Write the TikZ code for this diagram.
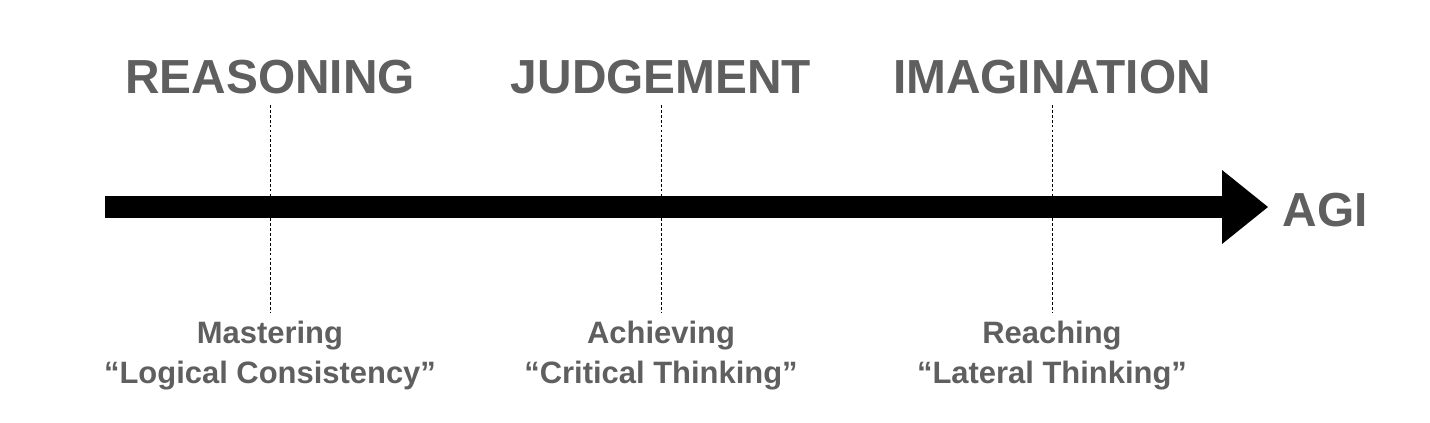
\documentclass[tikz,border=0pt]{standalone}
\usepackage{fontspec}
\setmainfont{Liberation Sans}
\definecolor{txtgray}{HTML}{5F5F5F}
\tikzset{
  stage/.style={font=\bfseries\fontsize{34}{40}\selectfont, text=txtgray, inner sep=0pt},
  goal/.style={font=\bfseries\fontsize{22}{28.5}\selectfont, text=txtgray, align=center, inner sep=0pt},
  tick/.style={dash pattern=on 2pt off 1.5pt, line width=0.5pt}
}
\begin{document}
\begin{tikzpicture}[x=0.025cm, y=0.025cm]
\useasboundingbox (0,0) rectangle (1430,422);
% arrow
\fill (105,204) rectangle (1224,226);
\fill (1222,252) -- (1268,215) -- (1222,178) -- cycle;
\node[stage] (agi) at (1325,212) {AGI};
% stages
\node[stage] (reason) at (270,345) {REASONING};
\node[stage] (judge) at (661,345) {JUDGEMENT};
\node[stage] (imag) at (1052,345) {IMAGINATION};
\coordinate (r1) at (270,317); \coordinate (r2) at (270,110);
\coordinate (j1) at (661,317); \coordinate (j2) at (661,110);
\coordinate (i1) at (1052,317); \coordinate (i2) at (1052,110);
\draw[tick] (r1) -- (r2);
\draw[tick] (j1) -- (j2);
\draw[tick] (i1) -- (i2);
% goals
\node[goal] (logic) at (270,66) {Mastering\\``Logical Consistency''};
\node[goal] (crit) at (661,66) {Achieving\\``Critical Thinking''};
\node[goal] (lat) at (1052,66) {Reaching\\``Lateral Thinking''};
\end{tikzpicture}
\end{document}
